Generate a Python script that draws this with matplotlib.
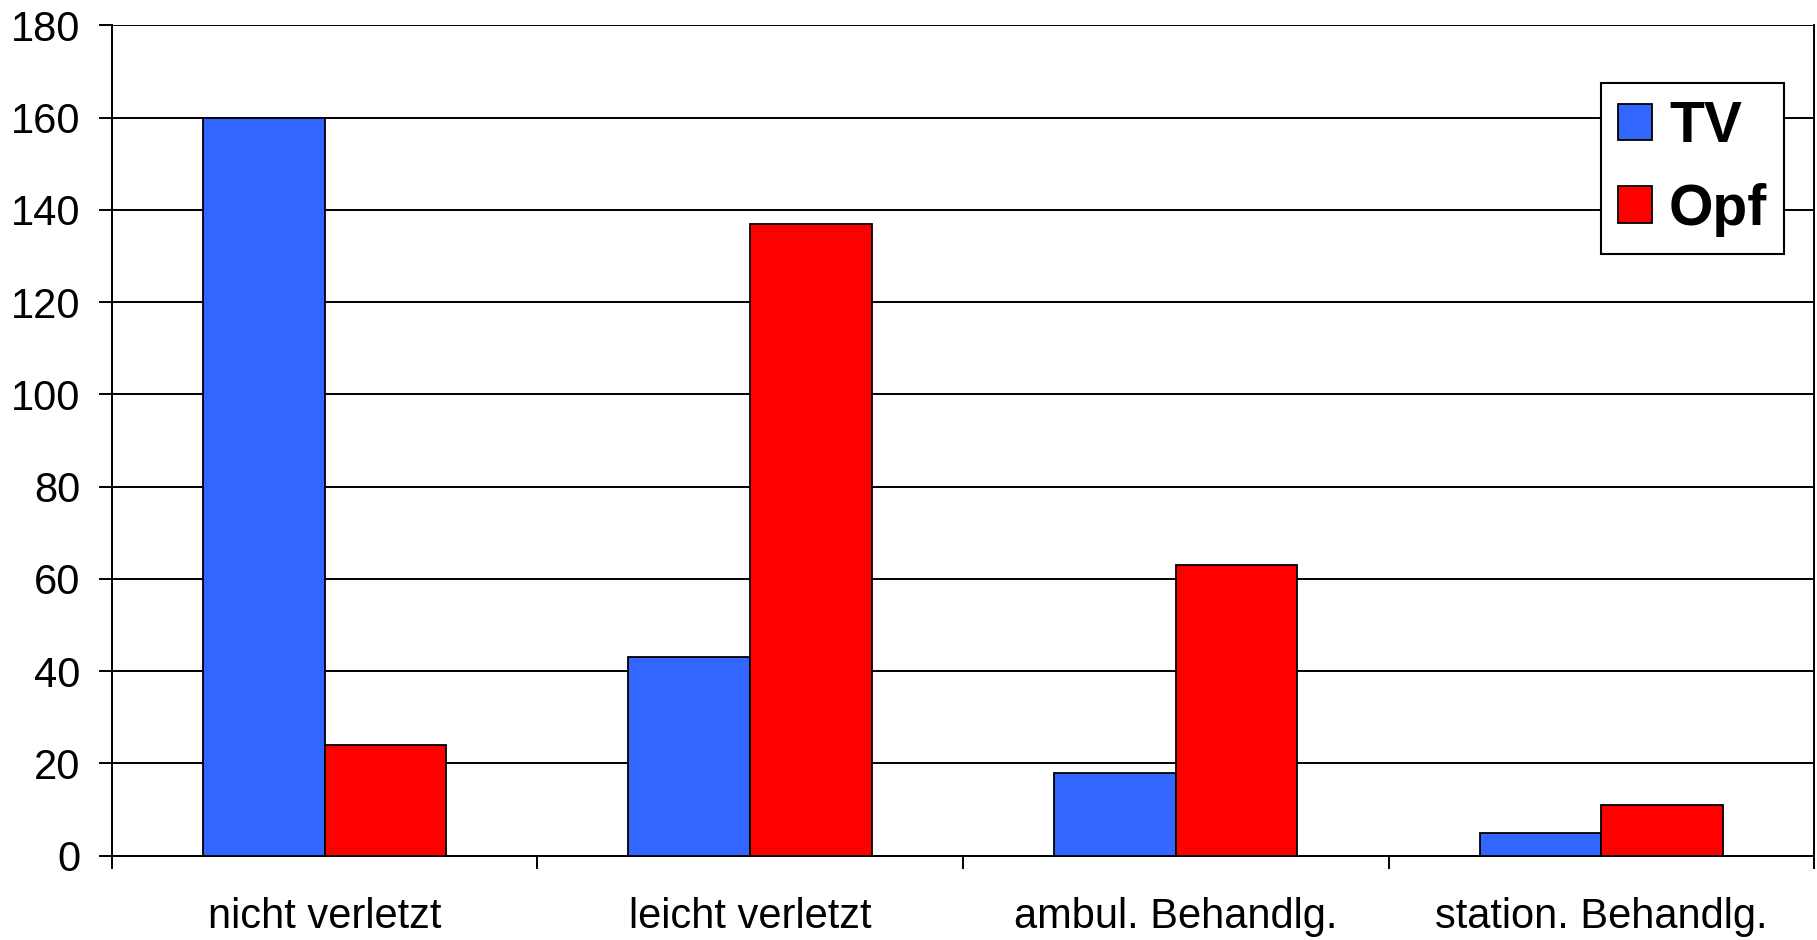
import numpy as np
import matplotlib
matplotlib.use("Agg")
import matplotlib.pyplot as plt

categories = ["nicht verletzt", "leicht verletzt", "ambul. Behandlg.", "station. Behandlg."]
tv = [160, 43, 18, 5]
opf = [24, 137, 63, 11]
yticks = [0, 20, 40, 60, 80, 100, 120, 140, 160, 180]

plt.rcParams["font.family"] = ["Liberation Sans", "DejaVu Sans"]

fig = plt.figure(figsize=(18.17, 9.40), dpi=100)
ax = fig.add_axes([0.0615, 0.0897, 0.9369, 0.8834])

x = np.arange(len(categories)) + 0.5
w = 0.286
ax.bar(x - w / 2, tv, w, color="#3366FF", edgecolor="black", linewidth=1.3, label="TV", zorder=3)
ax.bar(x + w / 2, opf, w, color="#FF0000", edgecolor="black", linewidth=1.3, label="Opf", zorder=3)

ax.set_xlim(0, len(categories))
ax.set_ylim(0, 180)
ax.set_yticks(yticks)
ax.yaxis.grid(True, color="black", linewidth=1.4, zorder=0)

# boundaries as major ticks, names on minor ticks
ax.set_xticks(np.arange(len(categories) + 1))
ax.set_xticklabels([])
ax.set_xticks(x, minor=True)
ax.set_xticklabels(categories, minor=True)
ax.tick_params(axis="x", which="major", length=9.5, width=1.4, direction="out")
ax.tick_params(axis="x", which="minor", length=0, pad=30, labelsize=30)
ax.tick_params(axis="y", length=9.5, width=1.4, pad=13, labelsize=30)

for side in ["left", "bottom", "right"]:
    ax.spines[side].set_linewidth(1.4)
ax.spines["top"].set_visible(False)

leg = ax.legend(loc="upper left", bbox_to_anchor=(0.881, 0.9117), bbox_transform=fig.transFigure,
                prop={"weight": "bold", "size": 41}, frameon=True, fancybox=False,
                edgecolor="black", handlelength=0.6, handleheight=0.6, handletextpad=0.3,
                labelspacing=0.5, borderpad=0.3, borderaxespad=0)
leg.get_frame().set_linewidth(1.5)
leg.get_frame().set_alpha(1)
leg.set_zorder(5)

fig.savefig("out.png", dpi=100)
